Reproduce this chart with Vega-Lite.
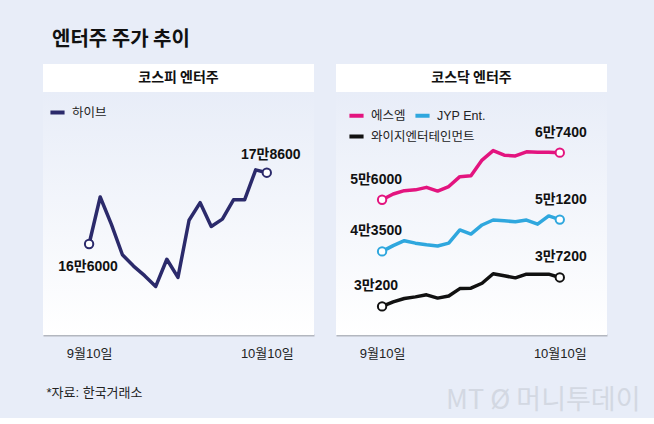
{
  "$schema": "https://vega.github.io/schema/vega-lite/v6.json",
  "background": "#e8edf8",
  "padding": {"left": 43, "top": 30, "right": 14, "bottom": 5},
  "title": {
    "text": "엔터주 주가 추이",
    "anchor": "start",
    "frame": "group",
    "dx": 9,
    "offset": 14,
    "fontSize": 20,
    "fontWeight": "bold",
    "font": "'Noto Sans CJK KR'",
    "color": "#111111"
  },
  "datasets": {
    "hybe": [
      {"s": "하이브", "i": 0, "v": 166000, "label": "16만6000"},
      {"s": "하이브", "i": 1, "v": 174300},
      {"s": "하이브", "i": 2, "v": 169500},
      {"s": "하이브", "i": 3, "v": 164100},
      {"s": "하이브", "i": 4, "v": 162100},
      {"s": "하이브", "i": 5, "v": 160400},
      {"s": "하이브", "i": 6, "v": 158500},
      {"s": "하이브", "i": 7, "v": 163300},
      {"s": "하이브", "i": 8, "v": 160100},
      {"s": "하이브", "i": 9, "v": 170200},
      {"s": "하이브", "i": 10, "v": 173300},
      {"s": "하이브", "i": 11, "v": 169100},
      {"s": "하이브", "i": 12, "v": 170400},
      {"s": "하이브", "i": 13, "v": 173800},
      {"s": "하이브", "i": 14, "v": 173800},
      {"s": "하이브", "i": 15, "v": 179100},
      {"s": "하이브", "i": 16, "v": 178600, "label": "17만8600"}
    ],
    "kosdaq": [
      {"s": "에스엠", "i": 0, "v": 56000, "label": "5만6000"},
      {"s": "에스엠", "i": 1, "v": 57400},
      {"s": "에스엠", "i": 2, "v": 58200},
      {"s": "에스엠", "i": 3, "v": 58400},
      {"s": "에스엠", "i": 4, "v": 59000},
      {"s": "에스엠", "i": 5, "v": 58100},
      {"s": "에스엠", "i": 6, "v": 59200},
      {"s": "에스엠", "i": 7, "v": 61600},
      {"s": "에스엠", "i": 8, "v": 61800},
      {"s": "에스엠", "i": 9, "v": 65600},
      {"s": "에스엠", "i": 10, "v": 67900},
      {"s": "에스엠", "i": 11, "v": 66800},
      {"s": "에스엠", "i": 12, "v": 66600},
      {"s": "에스엠", "i": 13, "v": 67600},
      {"s": "에스엠", "i": 14, "v": 67500},
      {"s": "에스엠", "i": 15, "v": 67500},
      {"s": "에스엠", "i": 16, "v": 67400, "label": "6만7400"},
      {"s": "JYP Ent.", "i": 0, "v": 43500, "label": "4만3500"},
      {"s": "JYP Ent.", "i": 1, "v": 44900},
      {"s": "JYP Ent.", "i": 2, "v": 46100},
      {"s": "JYP Ent.", "i": 3, "v": 45500},
      {"s": "JYP Ent.", "i": 4, "v": 45100},
      {"s": "JYP Ent.", "i": 5, "v": 44800},
      {"s": "JYP Ent.", "i": 6, "v": 45500},
      {"s": "JYP Ent.", "i": 7, "v": 48700},
      {"s": "JYP Ent.", "i": 8, "v": 47700},
      {"s": "JYP Ent.", "i": 9, "v": 49900},
      {"s": "JYP Ent.", "i": 10, "v": 51100},
      {"s": "JYP Ent.", "i": 11, "v": 50900},
      {"s": "JYP Ent.", "i": 12, "v": 50700},
      {"s": "JYP Ent.", "i": 13, "v": 51100},
      {"s": "JYP Ent.", "i": 14, "v": 50100},
      {"s": "JYP Ent.", "i": 15, "v": 52100},
      {"s": "JYP Ent.", "i": 16, "v": 51200, "label": "5만1200"},
      {"s": "와이지엔터테인먼트", "i": 0, "v": 30200, "label": "3만200"},
      {"s": "와이지엔터테인먼트", "i": 1, "v": 31300},
      {"s": "와이지엔터테인먼트", "i": 2, "v": 32100},
      {"s": "와이지엔터테인먼트", "i": 3, "v": 32500},
      {"s": "와이지엔터테인먼트", "i": 4, "v": 33000},
      {"s": "와이지엔터테인먼트", "i": 5, "v": 32200},
      {"s": "와이지엔터테인먼트", "i": 6, "v": 32700},
      {"s": "와이지엔터테인먼트", "i": 7, "v": 34500},
      {"s": "와이지엔터테인먼트", "i": 8, "v": 34600},
      {"s": "와이지엔터테인먼트", "i": 9, "v": 35800},
      {"s": "와이지엔터테인먼트", "i": 10, "v": 38100},
      {"s": "와이지엔터테인먼트", "i": 11, "v": 37600},
      {"s": "와이지엔터테인먼트", "i": 12, "v": 37100},
      {"s": "와이지엔터테인먼트", "i": 13, "v": 38000},
      {"s": "와이지엔터테인먼트", "i": 14, "v": 38000},
      {"s": "와이지엔터테인먼트", "i": 15, "v": 38000},
      {"s": "와이지엔터테인먼트", "i": 16, "v": 37200, "label": "3만7200"}
    ]
  },
  "spacing": 22,
  "resolve": {"scale": {"x": "independent", "y": "independent", "color": "independent"}, "legend": {"color": "independent"}},
  "hconcat": [
    {
      "width": 271,
      "height": 271,
      "layer": [
        {
          "data": {"values": [{}]},
          "mark": {"type": "rect", "fill": {"gradient": "linear", "x1": 0, "y1": 0, "x2": 0, "y2": 1, "stops": [{"offset": 0, "color": "#e8edf8"}, {"offset": 1, "color": "#ffffff"}]}},
          "encoding": {
            "x": {"datum": -4.15, "type": "quantitative", "scale": {"domain": [-4.15, 20.25], "nice": false, "zero": false}},
            "x2": {"datum": 20.25},
            "y": {"datum": 149920, "type": "quantitative", "scale": {"domain": [149920, 197806], "nice": false, "zero": false}, "axis": null},
            "y2": {"datum": 192858}
          }
        },
        {
          "data": {"values": [{}]},
          "mark": {"type": "rect", "fill": "#ffffff"},
          "encoding": {
            "x": {"datum": -4.15, "type": "quantitative", "scale": {"domain": [-4.15, 20.25], "nice": false, "zero": false}},
            "x2": {"datum": 20.25},
            "y": {"datum": 192858, "type": "quantitative", "scale": {"domain": [149920, 197806], "nice": false, "zero": false}, "axis": null},
            "y2": {"datum": 197806}
          }
        },
        {
          "data": {"values": [{}]},
          "mark": {"type": "text", "text": "코스피 엔터주", "font": "'Noto Sans CJK KR'", "fontSize": 14, "fontWeight": "bold", "color": "#111111", "baseline": "middle", "align": "center"},
          "encoding": {
            "x": {"datum": 8.05, "type": "quantitative", "scale": {"domain": [-4.15, 20.25], "nice": false, "zero": false}},
            "y": {"datum": 195332, "type": "quantitative", "scale": {"domain": [149920, 197806], "nice": false, "zero": false}, "axis": null}
          }
        },
        {
          "data": {"name": "hybe"},
          "mark": {"type": "line", "strokeWidth": 3.5, "strokeJoin": "round"},
          "encoding": {
            "x": {
              "field": "i", "type": "quantitative",
              "scale": {"domain": [-4.15, 20.25], "nice": false, "zero": false},
              "axis": {
                "values": [0, 16],
                "labelExpr": "datum.value == 0 ? '9월10일' : '10월10일'",
                "title": "*자료: 한국거래소",
                "titleAnchor": "start", "titleAlign": "left", "titleX": 3, "titleY": 57, "titleBaseline": "middle",
                "titleFontSize": 13, "titleFontWeight": "normal", "titleColor": "#222222", "titleFont": "'Liberation Sans', 'Noto Sans CJK KR'"
              }
            },
            "y": {"field": "v", "type": "quantitative", "scale": {"domain": [149920, 197806], "nice": false, "zero": false}, "axis": null},
            "color": {
              "field": "s", "type": "nominal",
              "scale": {"domain": ["하이브"], "range": ["#2b2a6b"]},
              "legend": {"orient": "none", "legendX": 5, "legendY": 39, "title": null}
            }
          }
        },
        {
          "data": {"name": "hybe"},
          "transform": [{"filter": "isValid(datum.label)"}],
          "mark": {"type": "point", "filled": false, "fill": "#ffffff", "size": 70, "strokeWidth": 2, "opacity": 1},
          "encoding": {
            "x": {"field": "i", "type": "quantitative", "scale": {"domain": [-4.15, 20.25], "nice": false, "zero": false}},
            "y": {"field": "v", "type": "quantitative", "scale": {"domain": [149920, 197806], "nice": false, "zero": false}, "axis": null},
            "color": {"field": "s", "type": "nominal", "scale": {"domain": ["하이브"], "range": ["#2b2a6b"]}, "legend": null}
          }
        },
        {
          "data": {"name": "hybe"},
          "transform": [{"filter": "datum.i == 16"}],
          "mark": {"type": "text", "fontSize": 14, "fontWeight": "bold", "color": "#111111", "dx": 4, "dy": -18, "baseline": "middle"},
          "encoding": {
            "x": {"field": "i", "type": "quantitative", "scale": {"domain": [-4.15, 20.25], "nice": false, "zero": false}},
            "y": {"field": "v", "type": "quantitative", "scale": {"domain": [149920, 197806], "nice": false, "zero": false}, "axis": null},
            "text": {"field": "label"}
          }
        },
        {
          "data": {"name": "hybe"},
          "transform": [{"filter": "datum.i == 0"}],
          "mark": {"type": "text", "fontSize": 14, "fontWeight": "bold", "color": "#111111", "dx": -1, "dy": 23, "baseline": "middle"},
          "encoding": {
            "x": {"field": "i", "type": "quantitative", "scale": {"domain": [-4.15, 20.25], "nice": false, "zero": false}},
            "y": {"field": "v", "type": "quantitative", "scale": {"domain": [149920, 197806], "nice": false, "zero": false}, "axis": null},
            "text": {"field": "label"}
          }
        }
      ]
    },
    {
      "width": 271,
      "height": 271,
      "resolve": {"scale": {"color": "independent"}, "legend": {"color": "independent"}},
      "layer": [
        {
          "data": {"values": [{}]},
          "mark": {"type": "rect", "fill": {"gradient": "linear", "x1": 0, "y1": 0, "x2": 0, "y2": 1, "stops": [{"offset": 0, "color": "#e8edf8"}, {"offset": 1, "color": "#ffffff"}]}},
          "encoding": {
            "x": {"datum": -4.15, "type": "quantitative", "scale": {"domain": [-4.15, 20.25], "nice": false, "zero": false}},
            "x2": {"datum": 20.25},
            "y": {"datum": 23275, "type": "quantitative", "scale": {"domain": [23275, 88857], "nice": false, "zero": false}, "axis": null},
            "y2": {"datum": 82081}
          }
        },
        {
          "data": {"values": [{}]},
          "mark": {"type": "rect", "fill": "#ffffff"},
          "encoding": {
            "x": {"datum": -4.15, "type": "quantitative", "scale": {"domain": [-4.15, 20.25], "nice": false, "zero": false}},
            "x2": {"datum": 20.25},
            "y": {"datum": 82081, "type": "quantitative", "scale": {"domain": [23275, 88857], "nice": false, "zero": false}, "axis": null},
            "y2": {"datum": 88857}
          }
        },
        {
          "data": {"values": [{}]},
          "mark": {"type": "text", "text": "코스닥 엔터주", "font": "'Noto Sans CJK KR'", "fontSize": 14, "fontWeight": "bold", "color": "#111111", "baseline": "middle", "align": "center"},
          "encoding": {
            "x": {"datum": 8.05, "type": "quantitative", "scale": {"domain": [-4.15, 20.25], "nice": false, "zero": false}},
            "y": {"datum": 85469, "type": "quantitative", "scale": {"domain": [23275, 88857], "nice": false, "zero": false}, "axis": null}
          }
        },
        {
          "data": {"name": "kosdaq"},
          "transform": [{"filter": "datum.s != '와이지엔터테인먼트'"}],
          "mark": {"type": "line", "strokeWidth": 3.5, "strokeJoin": "round"},
          "encoding": {
            "x": {
              "field": "i", "type": "quantitative",
              "scale": {"domain": [-4.15, 20.25], "nice": false, "zero": false},
              "axis": {
                "values": [0, 16],
                "labelExpr": "datum.value == 0 ? '9월10일' : '10월10일'",
                "title": "MT Ø 머니투데이",
                "titleAnchor": "end", "titleAlign": "right", "titleX": 304, "titleY": 65, "titleBaseline": "middle",
                "titleFontSize": 27, "titleFontWeight": "normal", "titleColor": "#d3d8e2", "titleFont": "'Noto Sans CJK KR'"
              }
            },
            "y": {"field": "v", "type": "quantitative", "scale": {"domain": [23275, 88857], "nice": false, "zero": false}, "axis": null},
            "color": {
              "field": "s", "type": "nominal",
              "scale": {"domain": ["에스엠", "JYP Ent."], "range": ["#e3147f", "#2fa7de"]},
              "legend": {"orient": "none", "direction": "horizontal", "legendX": 11, "legendY": 42, "title": null, "columnPadding": 1}
            }
          }
        },
        {
          "data": {"name": "kosdaq"},
          "transform": [{"filter": "datum.s == '와이지엔터테인먼트'"}],
          "mark": {"type": "line", "strokeWidth": 3.5, "strokeJoin": "round"},
          "encoding": {
            "x": {"field": "i", "type": "quantitative", "scale": {"domain": [-4.15, 20.25], "nice": false, "zero": false}},
            "y": {"field": "v", "type": "quantitative", "scale": {"domain": [23275, 88857], "nice": false, "zero": false}, "axis": null},
            "color": {
              "field": "s", "type": "nominal",
              "scale": {"domain": ["와이지엔터테인먼트"], "range": ["#111111"]},
              "legend": {"orient": "none", "direction": "horizontal", "legendX": 11, "legendY": 63, "title": null}
            }
          }
        },
        {
          "data": {"name": "kosdaq"},
          "transform": [{"filter": "isValid(datum.label)"}],
          "mark": {"type": "point", "filled": false, "fill": "#ffffff", "size": 70, "strokeWidth": 2, "opacity": 1},
          "encoding": {
            "x": {"field": "i", "type": "quantitative", "scale": {"domain": [-4.15, 20.25], "nice": false, "zero": false}},
            "y": {"field": "v", "type": "quantitative", "scale": {"domain": [23275, 88857], "nice": false, "zero": false}, "axis": null},
            "color": {"field": "s", "type": "nominal", "scale": {"domain": ["에스엠", "JYP Ent.", "와이지엔터테인먼트"], "range": ["#e3147f", "#2fa7de", "#111111"]}, "legend": null}
          }
        },
        {
          "data": {"name": "kosdaq"},
          "transform": [{"filter": "datum.i == 0"}],
          "mark": {"type": "text", "fontSize": 14, "fontWeight": "bold", "color": "#111111", "dx": -6, "dy": -20, "baseline": "middle"},
          "encoding": {
            "x": {"field": "i", "type": "quantitative", "scale": {"domain": [-4.15, 20.25], "nice": false, "zero": false}},
            "y": {"field": "v", "type": "quantitative", "scale": {"domain": [23275, 88857], "nice": false, "zero": false}, "axis": null},
            "text": {"field": "label"}
          }
        },
        {
          "data": {"name": "kosdaq"},
          "transform": [{"filter": "datum.i == 16"}],
          "mark": {"type": "text", "fontSize": 14, "fontWeight": "bold", "color": "#111111", "dx": 1, "dy": -20, "baseline": "middle"},
          "encoding": {
            "x": {"field": "i", "type": "quantitative", "scale": {"domain": [-4.15, 20.25], "nice": false, "zero": false}},
            "y": {"field": "v", "type": "quantitative", "scale": {"domain": [23275, 88857], "nice": false, "zero": false}, "axis": null},
            "text": {"field": "label"}
          }
        }
      ]
    }
  ],
  "config": {
    "view": {"stroke": null},
    "font": "'Liberation Sans', 'Noto Sans CJK KR'",
    "axis": {
      "domainColor": "#b3b7bf",
      "domainWidth": 2,
      "ticks": false,
      "tickSize": 0,
      "grid": false,
      "labelPadding": 12,
      "labelFontSize": 13,
      "labelColor": "#222222",
      "labelFont": "'Liberation Sans', 'Noto Sans CJK KR'",
      "labelFlush": false
    },
    "legend": {
      "symbolType": "stroke",
      "symbolStrokeWidth": 4,
      "symbolSize": 200,
      "labelFontSize": 12.5,
      "labelColor": "#222222",
      "labelFont": "'Liberation Sans', 'Noto Sans CJK KR'",
      "labelOffset": 5,
      "padding": 0
    }
  }
}
